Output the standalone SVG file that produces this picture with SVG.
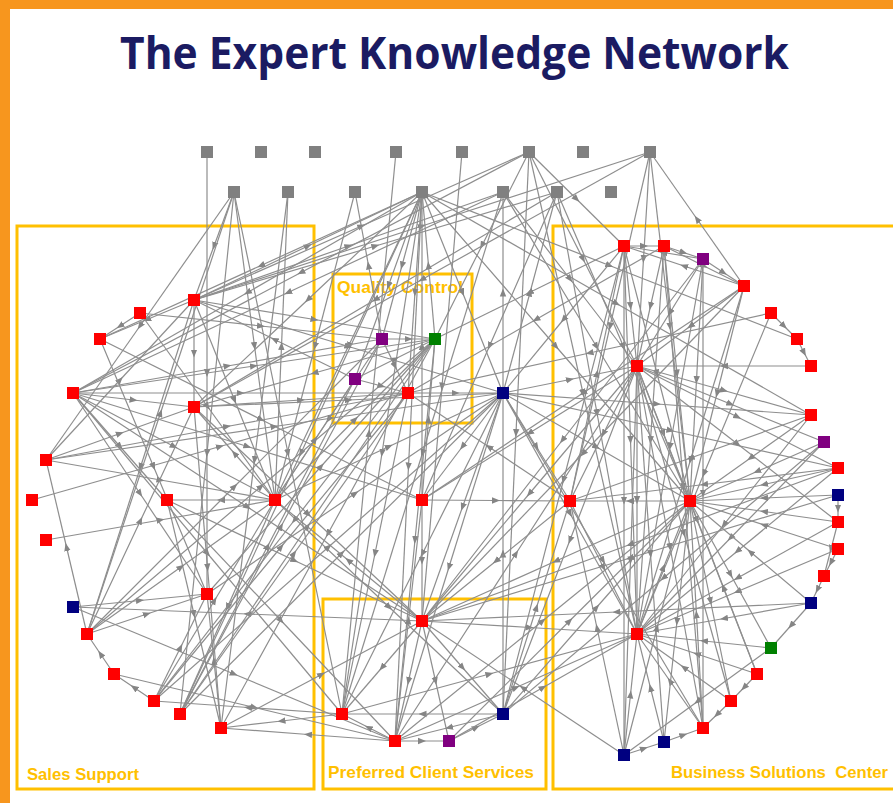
<svg xmlns="http://www.w3.org/2000/svg" width="893" height="803" viewBox="0 0 893 803">
<style>
.e{stroke:#8e8e8e;stroke-width:1.2;fill:none;marker-mid:url(#a)}
.box{fill:none;stroke:#FFC000;stroke-width:3}
.lbl{font-family:"Liberation Sans",Arial,sans-serif;font-weight:bold;fill:#FFC000}
.gr{fill:#808080}.rd{fill:#FF0000}.nv{fill:#000080}.pu{fill:#800080}.gn{fill:#008000}
</style>
<defs>
<marker id="a" viewBox="0 0 10 10" refX="5" refY="5" markerWidth="8" markerHeight="8" markerUnits="userSpaceOnUse" orient="auto"><path d="M0,1L10,5L0,9z" fill="#858585"/></marker>
</defs>
<rect width="893" height="803" fill="#fff"/>
<rect x="0" y="0" width="893" height="9" fill="#F7961E"/>
<rect x="0" y="0" width="10" height="803" fill="#F7961E"/>
<text x="120" y="69" font-family="'Open Sans','Liberation Sans',sans-serif" font-weight="bold" font-size="44" fill="#1B1B62" textLength="669" lengthAdjust="spacingAndGlyphs">The Expert Knowledge Network</text>
<g id="groups">
<rect class="box" x="17" y="226" width="297" height="563"/>
<rect class="box" x="333" y="274" width="139" height="149"/>
<rect class="box" x="323" y="599" width="223" height="190"/>
<rect class="box" x="553" y="226" width="350" height="563"/>
<text class="lbl" x="27" y="780" font-size="17" textLength="112" lengthAdjust="spacingAndGlyphs">Sales Support</text>
<text class="lbl" x="337" y="293" font-size="16" textLength="126" lengthAdjust="spacingAndGlyphs">Quality Control</text>
<text class="lbl" x="328" y="778" font-size="17" textLength="206" lengthAdjust="spacingAndGlyphs">Preferred Client Services</text>
<text class="lbl" x="671" y="778" font-size="17" textLength="217" lengthAdjust="spacingAndGlyphs" xml:space="preserve">Business Solutions  Center</text>
</g>
<g id="connectors">
<path class="e" d="M207 152L207 373L207 594"/>
<path class="e" d="M234 192L214 246L194 300"/>
<path class="e" d="M234 192L140 326L46 460"/>
<path class="e" d="M234 192L254.5 346L275 500"/>
<path class="e" d="M234 192L288 453L342 714"/>
<path class="e" d="M234 192L207 453L180 714"/>
<path class="e" d="M288 192L254.5 460L221 728"/>
<path class="e" d="M355 192L315 346L275 500"/>
<path class="e" d="M382 339L368.5 265.5L355 192"/>
<path class="e" d="M462 152L442 386.5L422 621"/>
<path class="e" d="M529 152L482 245.5L435 339"/>
<path class="e" d="M529 152L516 433L503 714"/>
<path class="e" d="M529 152L583 259L637 366"/>
<path class="e" d="M529 152L576.5 199L624 246"/>
<path class="e" d="M529 152L583 393L637 634"/>
<path class="e" d="M194 300L422 226L650 152"/>
<path class="e" d="M650 152L422 279.5L194 407"/>
<path class="e" d="M744 286L697 219L650 152"/>
<path class="e" d="M650 152L610 326.5L570 501"/>
<path class="e" d="M650 152L643.5 259L637 366"/>
<path class="e" d="M650 152L670 326.5L690 501"/>
<path class="e" d="M194 300L308 246L422 192"/>
<path class="e" d="M194 300L348.5 246L503 192"/>
<path class="e" d="M194 300L375.5 246L557 192"/>
<path class="e" d="M194 300L361.5 226L529 152"/>
<path class="e" d="M422 192L247.5 292.5L73 393"/>
<path class="e" d="M422 192L308 299.5L194 407"/>
<path class="e" d="M422 192L388.5 285.5L355 379"/>
<path class="e" d="M422 192L402 265.5L382 339"/>
<path class="e" d="M422 192L415 292.5L408 393"/>
<path class="e" d="M422 500L422 346L422 192"/>
<path class="e" d="M422 192L408.5 466.5L395 741"/>
<path class="e" d="M422 192L382 453L342 714"/>
<path class="e" d="M422 192L462.5 292.5L503 393"/>
<path class="e" d="M422 192L609.5 265.5L797 339"/>
<path class="e" d="M422 192L616.5 303.5L811 415"/>
<path class="e" d="M422 192L556 346.5L690 501"/>
<path class="e" d="M422 192L348.5 346L275 500"/>
<path class="e" d="M422 192L301 453L180 714"/>
<path class="e" d="M422 192L261 265.5L100 339"/>
<path class="e" d="M503 192L422.5 453L342 714"/>
<path class="e" d="M503 192L570 279L637 366"/>
<path class="e" d="M503 192L596.5 346.5L690 501"/>
<path class="e" d="M503 192L288 292.5L73 393"/>
<path class="e" d="M557 192L489.5 346L422 500"/>
<path class="e" d="M557 192L623.5 346.5L690 501"/>
<path class="e" d="M557 192L375.5 299.5L194 407"/>
<path class="e" d="M557 192L597 413L637 634"/>
<path class="e" d="M529 152L301 272.5L73 393"/>
<path class="e" d="M194 300L147 319.5L100 339"/>
<path class="e" d="M194 300L194 353.5L194 407"/>
<path class="e" d="M194 300L234.5 400L275 500"/>
<path class="e" d="M194 300L314.5 319.5L435 339"/>
<path class="e" d="M194 300L348.5 346.5L503 393"/>
<path class="e" d="M194 300L140.5 467L87 634"/>
<path class="e" d="M140 313L120 326L100 339"/>
<path class="e" d="M140 313L261 326L382 339"/>
<path class="e" d="M140 313L207.5 406.5L275 500"/>
<path class="e" d="M100 339L261 419.5L422 500"/>
<path class="e" d="M73 393L240.5 393L408 393"/>
<path class="e" d="M408 393L455.5 393L503 393"/>
<path class="e" d="M73 393L133.5 400L194 407"/>
<path class="e" d="M73 393L174 446.5L275 500"/>
<path class="e" d="M73 393L120 446.5L167 500"/>
<path class="e" d="M73 393L247.5 507L422 621"/>
<path class="e" d="M73 393L247.5 446.5L422 500"/>
<path class="e" d="M73 393L140 493.5L207 594"/>
<path class="e" d="M73 393L207.5 553.5L342 714"/>
<path class="e" d="M73 393L227.5 366L382 339"/>
<path class="e" d="M73 393L254 366L435 339"/>
<path class="e" d="M46 460L120 380L194 300"/>
<path class="e" d="M46 460L120 433.5L194 407"/>
<path class="e" d="M46 460L160.5 480L275 500"/>
<path class="e" d="M46 460L227 426.5L408 393"/>
<path class="e" d="M46 460L274.5 426.5L503 393"/>
<path class="e" d="M87 634L66.5 547L46 460"/>
<path class="e" d="M32 500L220 446.5L408 393"/>
<path class="e" d="M275 500L221 500L167 500"/>
<path class="e" d="M167 500L294.5 560.5L422 621"/>
<path class="e" d="M167 500L194 614L221 728"/>
<path class="e" d="M167 500L281 620.5L395 741"/>
<path class="e" d="M46 540L160.5 520L275 500"/>
<path class="e" d="M73 607L140 600.5L207 594"/>
<path class="e" d="M422 621L247.5 614L73 607"/>
<path class="e" d="M73 607L234 674L395 741"/>
<path class="e" d="M87 634L261 486.5L435 339"/>
<path class="e" d="M87 634L234.5 486.5L382 339"/>
<path class="e" d="M87 634L147 614L207 594"/>
<path class="e" d="M87 634L140.5 520.5L194 407"/>
<path class="e" d="M87 634L181 567L275 500"/>
<path class="e" d="M87 634L160.5 413L234 192"/>
<path class="e" d="M114 674L100.5 654L87 634"/>
<path class="e" d="M154 701L134 687.5L114 674"/>
<path class="e" d="M114 674L254.5 707.5L395 741"/>
<path class="e" d="M154 701L180.5 647.5L207 594"/>
<path class="e" d="M154 701L214.5 600.5L275 500"/>
<path class="e" d="M154 701L281 547L408 393"/>
<path class="e" d="M180 714L307.5 526.5L435 339"/>
<path class="e" d="M180 714L294 553.5L408 393"/>
<path class="e" d="M180 714L281 526.5L382 339"/>
<path class="e" d="M180 714L341.5 553.5L503 393"/>
<path class="e" d="M180 714L267.5 546.5L355 379"/>
<path class="e" d="M221 728L214 661L207 594"/>
<path class="e" d="M342 714L281.5 721L221 728"/>
<path class="e" d="M395 741L308 734.5L221 728"/>
<path class="e" d="M221 728L321.5 674.5L422 621"/>
<path class="e" d="M275 500L234.5 453.5L194 407"/>
<path class="e" d="M275 500L227.5 607L180 714"/>
<path class="e" d="M275 500L355 419.5L435 339"/>
<path class="e" d="M275 500L389 446.5L503 393"/>
<path class="e" d="M275 500L389 607L503 714"/>
<path class="e" d="M100 339L153.5 466.5L207 594"/>
<path class="e" d="M382 339L408.5 339L435 339"/>
<path class="e" d="M355 379L395 359L435 339"/>
<path class="e" d="M355 379L381.5 386L408 393"/>
<path class="e" d="M382 339L395 366L408 393"/>
<path class="e" d="M435 339L294.5 520L154 701"/>
<path class="e" d="M435 339L328 533.5L221 728"/>
<path class="e" d="M435 339L415 540L395 741"/>
<path class="e" d="M435 339L428.5 265.5L422 192"/>
<path class="e" d="M435 339L314.5 373L194 407"/>
<path class="e" d="M408 393L375 553.5L342 714"/>
<path class="e" d="M382 339L328.5 419.5L275 500"/>
<path class="e" d="M355 379L274.5 339.5L194 300"/>
<path class="e" d="M503 393L503 292.5L503 192"/>
<path class="e" d="M503 393L530 292.5L557 192"/>
<path class="e" d="M503 393L462.5 446.5L422 500"/>
<path class="e" d="M503 393L462.5 507L422 621"/>
<path class="e" d="M503 714L503 553.5L503 393"/>
<path class="e" d="M503 393L449 567L395 741"/>
<path class="e" d="M503 393L596.5 447L690 501"/>
<path class="e" d="M503 393L570 513.5L637 634"/>
<path class="e" d="M503 393L536.5 447L570 501"/>
<path class="e" d="M503 393L570 379.5L637 366"/>
<path class="e" d="M503 393L670.5 430.5L838 468"/>
<path class="e" d="M503 393L657 404L811 415"/>
<path class="e" d="M503 393L603 560.5L703 728"/>
<path class="e" d="M503 393L422.5 553.5L342 714"/>
<path class="e" d="M422 500L496 500.5L570 501"/>
<path class="e" d="M422 500L422 560.5L422 621"/>
<path class="e" d="M422 500L428.5 419.5L435 339"/>
<path class="e" d="M570 501L496 561L422 621"/>
<path class="e" d="M690 501L556 561L422 621"/>
<path class="e" d="M637 366L529.5 493.5L422 621"/>
<path class="e" d="M422 621L529.5 627.5L637 634"/>
<path class="e" d="M422 621L348.5 560.5L275 500"/>
<path class="e" d="M422 621L382 667.5L342 714"/>
<path class="e" d="M422 621L408.5 681L395 741"/>
<path class="e" d="M422 621L435.5 681L449 741"/>
<path class="e" d="M422 621L462.5 667.5L503 714"/>
<path class="e" d="M811 603L616.5 612L422 621"/>
<path class="e" d="M838 495L630 558L422 621"/>
<path class="e" d="M744 286L583 453.5L422 621"/>
<path class="e" d="M703 259L562.5 440L422 621"/>
<path class="e" d="M503 714L422.5 714L342 714"/>
<path class="e" d="M395 741L368.5 727.5L342 714"/>
<path class="e" d="M342 714L369 433L396 152"/>
<path class="e" d="M342 714L489.5 674L637 634"/>
<path class="e" d="M503 714L449 727.5L395 741"/>
<path class="e" d="M637 366L570 540L503 714"/>
<path class="e" d="M624 246L563.5 480L503 714"/>
<path class="e" d="M395 741L422 741L449 741"/>
<path class="e" d="M395 741L542.5 621L690 501"/>
<path class="e" d="M395 741L516 687.5L637 634"/>
<path class="e" d="M395 741L516 553.5L637 366"/>
<path class="e" d="M395 741L408.5 620.5L422 500"/>
<path class="e" d="M449 741L476 727.5L503 714"/>
<path class="e" d="M449 741L569.5 621L690 501"/>
<path class="e" d="M449 741L543 687.5L637 634"/>
<path class="e" d="M503 714L596.5 607.5L690 501"/>
<path class="e" d="M503 714L536.5 607.5L570 501"/>
<path class="e" d="M624 246L644 246L664 246"/>
<path class="e" d="M703 259L663.5 252.5L624 246"/>
<path class="e" d="M624 246L630.5 306L637 366"/>
<path class="e" d="M624 246L657 373.5L690 501"/>
<path class="e" d="M624 246L630.5 440L637 634"/>
<path class="e" d="M624 246L624 500.5L624 755"/>
<path class="e" d="M664 246L683.5 252.5L703 259"/>
<path class="e" d="M664 246L704 266L744 286"/>
<path class="e" d="M664 246L650.5 306L637 366"/>
<path class="e" d="M664 246L677 373.5L690 501"/>
<path class="e" d="M664 246L683.5 487L703 728"/>
<path class="e" d="M664 246L650.5 440L637 634"/>
<path class="e" d="M703 259L723.5 272.5L744 286"/>
<path class="e" d="M703 259L670 312.5L637 366"/>
<path class="e" d="M703 259L696.5 380L690 501"/>
<path class="e" d="M703 259L703 493.5L703 728"/>
<path class="e" d="M703 259L670 446.5L637 634"/>
<path class="e" d="M744 286L690.5 326L637 366"/>
<path class="e" d="M744 286L717 393.5L690 501"/>
<path class="e" d="M744 286L690.5 460L637 634"/>
<path class="e" d="M744 286L684 266L624 246"/>
<path class="e" d="M771 313L784 326L797 339"/>
<path class="e" d="M771 313L589.5 353L408 393"/>
<path class="e" d="M771 313L704 473.5L637 634"/>
<path class="e" d="M797 339L804 352.5L811 366"/>
<path class="e" d="M811 366L724 366L637 366"/>
<path class="e" d="M637 366L663.5 433.5L690 501"/>
<path class="e" d="M637 366L637 500L637 634"/>
<path class="e" d="M637 366L630.5 560.5L624 755"/>
<path class="e" d="M637 366L670 547L703 728"/>
<path class="e" d="M637 366L684 533.5L731 701"/>
<path class="e" d="M637 366L697 520L757 674"/>
<path class="e" d="M637 366L724 390.5L811 415"/>
<path class="e" d="M637 366L730.5 404L824 442"/>
<path class="e" d="M637 366L737.5 417L838 468"/>
<path class="e" d="M637 366L603.5 433.5L570 501"/>
<path class="e" d="M637 366L737.5 444L838 522"/>
<path class="e" d="M637 366L650.5 554L664 742"/>
<path class="e" d="M811 415L690.5 458L570 501"/>
<path class="e" d="M811 415L724 524.5L637 634"/>
<path class="e" d="M811 415L750.5 458L690 501"/>
<path class="e" d="M824 442L757 471.5L690 501"/>
<path class="e" d="M824 442L730.5 538L637 634"/>
<path class="e" d="M838 468L764 484.5L690 501"/>
<path class="e" d="M838 468L737.5 551L637 634"/>
<path class="e" d="M838 468L704 484.5L570 501"/>
<path class="e" d="M838 495L764 498L690 501"/>
<path class="e" d="M838 522L764 511.5L690 501"/>
<path class="e" d="M838 522L737.5 578L637 634"/>
<path class="e" d="M838 522L831 549L824 576"/>
<path class="e" d="M838 549L737.5 591.5L637 634"/>
<path class="e" d="M838 549L831 562.5L824 576"/>
<path class="e" d="M838 549L764 525L690 501"/>
<path class="e" d="M824 576L817.5 589.5L811 603"/>
<path class="e" d="M811 603L724 618.5L637 634"/>
<path class="e" d="M811 603L750.5 552L690 501"/>
<path class="e" d="M771 648L704 641L637 634"/>
<path class="e" d="M771 648L697.5 701.5L624 755"/>
<path class="e" d="M811 603L791 625.5L771 648"/>
<path class="e" d="M757 674L723.5 587.5L690 501"/>
<path class="e" d="M757 674L744 687.5L731 701"/>
<path class="e" d="M757 674L697 654L637 634"/>
<path class="e" d="M731 701L717 714.5L703 728"/>
<path class="e" d="M731 701L684 667.5L637 634"/>
<path class="e" d="M703 728L696.5 614.5L690 501"/>
<path class="e" d="M703 728L670 681L637 634"/>
<path class="e" d="M664 742L683.5 735L703 728"/>
<path class="e" d="M664 742L650.5 688L637 634"/>
<path class="e" d="M624 755L644 748.5L664 742"/>
<path class="e" d="M624 755L630.5 694.5L637 634"/>
<path class="e" d="M624 755L657 628L690 501"/>
<path class="e" d="M624 755L597 628L570 501"/>
<path class="e" d="M624 755L523 688L422 621"/>
<path class="e" d="M637 634L663.5 567.5L690 501"/>
<path class="e" d="M690 501L630 501L570 501"/>
<path class="e" d="M570 501L603.5 567.5L637 634"/>
<path class="e" d="M570 501L597 373.5L624 246"/>
<path class="e" d="M690 501L677 621.5L664 742"/>
<path class="e" d="M690 501L710.5 601L731 701"/>
<path class="e" d="M690 501L730.5 574.5L771 648"/>
<path class="e" d="M570 501L489 447L408 393"/>
<path class="e" d="M624 246L563.5 319.5L503 393"/>
<path class="e" d="M624 246L529.5 292.5L435 339"/>
<path class="e" d="M664 246L536 319.5L408 393"/>
<path class="e" d="M744 286L583 393L422 500"/>
<path class="e" d="M637 366L529.5 433L422 500"/>
<path class="e" d="M824 442L663.5 578L503 714"/>
<path class="e" d="M838 468L630 544.5L422 621"/>
<path class="e" d="M838 495L838 508.5L838 522"/>
<path class="e" d="M194 407L301 400L408 393"/>
<path class="e" d="M194 407L348.5 400L503 393"/>
<path class="e" d="M194 407L207.5 567.5L221 728"/>
<path class="e" d="M194 407L308 514L422 621"/>
<path class="e" d="M275 500L281.5 346L288 192"/>
<path class="e" d="M275 500L315 439.5L355 379"/>
<path class="e" d="M207 594L321 466.5L435 339"/>
<path class="e" d="M207 594L355 493.5L503 393"/>
<path class="e" d="M154 701L328.5 547L503 393"/>
<path class="e" d="M342 714L248 707.5L154 701"/>
</g>
<g id="nodes">
<g id="g1"><rect class="gr" x="201" y="146" width="12" height="12"/></g>
<g id="g2"><rect class="gr" x="255" y="146" width="12" height="12"/></g>
<g id="g3"><rect class="gr" x="309" y="146" width="12" height="12"/></g>
<g id="g4"><rect class="gr" x="390" y="146" width="12" height="12"/></g>
<g id="g5"><rect class="gr" x="456" y="146" width="12" height="12"/></g>
<g id="g6"><rect class="gr" x="523" y="146" width="12" height="12"/></g>
<g id="g7"><rect class="gr" x="577" y="146" width="12" height="12"/></g>
<g id="g8"><rect class="gr" x="644" y="146" width="12" height="12"/></g>
<g id="h1"><rect class="gr" x="228" y="186" width="12" height="12"/></g>
<g id="h2"><rect class="gr" x="282" y="186" width="12" height="12"/></g>
<g id="h3"><rect class="gr" x="349" y="186" width="12" height="12"/></g>
<g id="h4"><rect class="gr" x="416" y="186" width="12" height="12"/></g>
<g id="h5"><rect class="gr" x="497" y="186" width="12" height="12"/></g>
<g id="h6"><rect class="gr" x="551" y="186" width="12" height="12"/></g>
<g id="h7"><rect class="gr" x="605" y="186" width="12" height="12"/></g>
<g id="s1"><rect class="rd" x="188" y="294" width="12" height="12"/></g>
<g id="s2"><rect class="rd" x="134" y="307" width="12" height="12"/></g>
<g id="s3"><rect class="rd" x="94" y="333" width="12" height="12"/></g>
<g id="s4"><rect class="rd" x="67" y="387" width="12" height="12"/></g>
<g id="s5"><rect class="rd" x="188" y="401" width="12" height="12"/></g>
<g id="s6"><rect class="rd" x="40" y="454" width="12" height="12"/></g>
<g id="s7"><rect class="rd" x="26" y="494" width="12" height="12"/></g>
<g id="s8"><rect class="rd" x="161" y="494" width="12" height="12"/></g>
<g id="s9"><rect class="rd" x="269" y="494" width="12" height="12"/></g>
<g id="s10"><rect class="rd" x="40" y="534" width="12" height="12"/></g>
<g id="s11"><rect class="nv" x="67" y="601" width="12" height="12"/></g>
<g id="s12"><rect class="rd" x="81" y="628" width="12" height="12"/></g>
<g id="s13"><rect class="rd" x="108" y="668" width="12" height="12"/></g>
<g id="s14"><rect class="rd" x="148" y="695" width="12" height="12"/></g>
<g id="s15"><rect class="rd" x="174" y="708" width="12" height="12"/></g>
<g id="s16"><rect class="rd" x="215" y="722" width="12" height="12"/></g>
<g id="s17"><rect class="rd" x="201" y="588" width="12" height="12"/></g>
<g id="q1"><rect class="pu" x="376" y="333" width="12" height="12"/></g>
<g id="q2"><rect class="gn" x="429" y="333" width="12" height="12"/></g>
<g id="q3"><rect class="pu" x="349" y="373" width="12" height="12"/></g>
<g id="q4"><rect class="rd" x="402" y="387" width="12" height="12"/></g>
<g id="n1"><rect class="nv" x="497" y="387" width="12" height="12"/></g>
<g id="c0"><rect class="rd" x="416" y="494" width="12" height="12"/></g>
<g id="p1"><rect class="rd" x="416" y="615" width="12" height="12"/></g>
<g id="p2"><rect class="rd" x="336" y="708" width="12" height="12"/></g>
<g id="p3"><rect class="nv" x="497" y="708" width="12" height="12"/></g>
<g id="p4"><rect class="rd" x="389" y="735" width="12" height="12"/></g>
<g id="p5"><rect class="pu" x="443" y="735" width="12" height="12"/></g>
<g id="b1"><rect class="rd" x="618" y="240" width="12" height="12"/></g>
<g id="b2"><rect class="rd" x="658" y="240" width="12" height="12"/></g>
<g id="b3"><rect class="pu" x="697" y="253" width="12" height="12"/></g>
<g id="b4"><rect class="rd" x="738" y="280" width="12" height="12"/></g>
<g id="b5"><rect class="rd" x="765" y="307" width="12" height="12"/></g>
<g id="b6"><rect class="rd" x="791" y="333" width="12" height="12"/></g>
<g id="b7"><rect class="rd" x="805" y="360" width="12" height="12"/></g>
<g id="b8"><rect class="rd" x="631" y="360" width="12" height="12"/></g>
<g id="b9"><rect class="rd" x="805" y="409" width="12" height="12"/></g>
<g id="b10"><rect class="pu" x="818" y="436" width="12" height="12"/></g>
<g id="b11"><rect class="rd" x="832" y="462" width="12" height="12"/></g>
<g id="b12"><rect class="nv" x="832" y="489" width="12" height="12"/></g>
<g id="b13"><rect class="rd" x="564" y="495" width="12" height="12"/></g>
<g id="b14"><rect class="rd" x="684" y="495" width="12" height="12"/></g>
<g id="b15"><rect class="rd" x="832" y="516" width="12" height="12"/></g>
<g id="b16"><rect class="rd" x="832" y="543" width="12" height="12"/></g>
<g id="b17"><rect class="rd" x="818" y="570" width="12" height="12"/></g>
<g id="b18"><rect class="nv" x="805" y="597" width="12" height="12"/></g>
<g id="b19"><rect class="rd" x="631" y="628" width="12" height="12"/></g>
<g id="b20"><rect class="gn" x="765" y="642" width="12" height="12"/></g>
<g id="b21"><rect class="rd" x="751" y="668" width="12" height="12"/></g>
<g id="b22"><rect class="rd" x="725" y="695" width="12" height="12"/></g>
<g id="b23"><rect class="rd" x="697" y="722" width="12" height="12"/></g>
<g id="b24"><rect class="nv" x="658" y="736" width="12" height="12"/></g>
<g id="b25"><rect class="nv" x="618" y="749" width="12" height="12"/></g>
</g>
</svg>
